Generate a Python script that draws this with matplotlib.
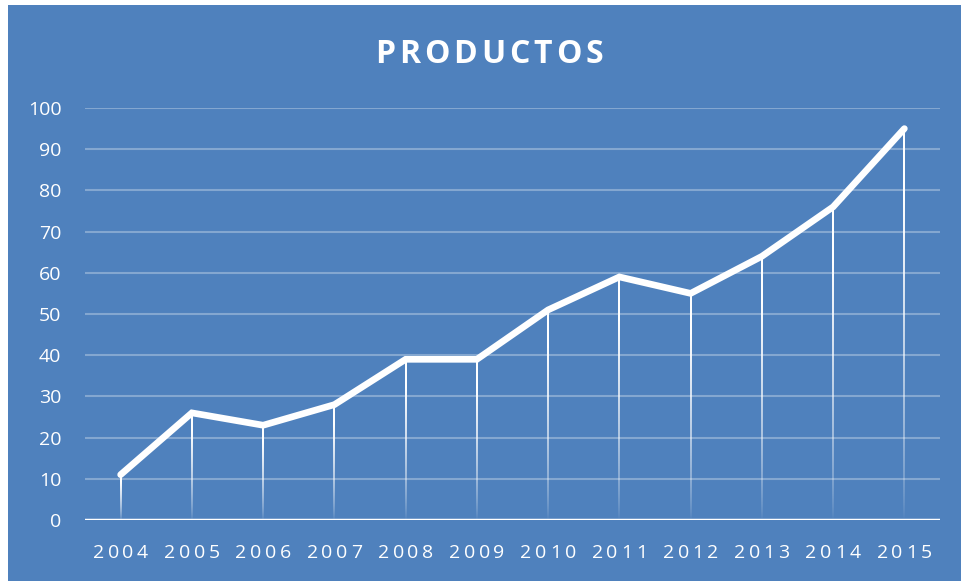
import matplotlib
matplotlib.use("Agg")
import matplotlib.pyplot as plt
import numpy as np
from matplotlib.patches import Rectangle

years = ["2004", "2005", "2006", "2007", "2008", "2009", "2010", "2011", "2012", "2013", "2014", "2015"]
values = [11, 26, 23, 28, 39, 39, 51, 59, 55, 64, 76, 95]
yticks = [0, 10, 20, 30, 40, 50, 60, 70, 80, 90, 100]
title = "PRODUCTOS"

BG = "#4f81bd"
FONT = "Open Sans"
W, H = 961, 581

fig = plt.figure(figsize=(W / 100, H / 100), dpi=100)
fig.patch.set_facecolor("white")
fig.add_artist(Rectangle((8 / W, 0), 1 - 8 / W, 1 - 5 / H, transform=fig.transFigure,
                         facecolor=BG, edgecolor="none", zorder=-10))

L, R, B, T = 85, 940, 520, 108
ax = fig.add_axes([L / W, 1 - B / H, (R - L) / W, (B - T) / H])
ax.set_facecolor("none")
x = np.arange(len(years))

# gridlines
for yv in yticks[1:]:
    ax.axhline(yv, color="white", alpha=0.3, lw=1.5, zorder=1)
ax.axhline(0, color="white", lw=2.5, zorder=3)

# drop lines with vertical gradient
px_per_unit = (R - L) / len(years)
hw = 1.0 / px_per_unit
n = 200
t = np.linspace(0, 1, n)[:, None]  # 0 bottom -> 1 top
alpha = np.clip(t ** 0.7 * 1.15, 0, 1)
grad = np.zeros((n, 1, 4))
grad[..., :3] = 1.0
grad[..., 3] = alpha
for xi, v in zip(x, values):
    ax.imshow(grad, extent=[xi - hw, xi + hw, 0, v], origin="lower",
              aspect="auto", interpolation="bilinear", zorder=2)

ax.plot(x, values, color="white", lw=4.8, solid_joinstyle="miter",
        solid_capstyle="round", zorder=4)

ax.set_xlim(-0.5, len(years) - 0.5)
ax.set_ylim(0, 100)
for s in ax.spines.values():
    s.set_visible(False)
ax.set_xticks(x)
ax.set_xticklabels([""] * len(years))
ax.set_yticks(yticks)
ax.tick_params(length=0, colors="white", labelsize=14)
ax.tick_params(axis="y", pad=17)
for lab in ax.get_yticklabels():
    lab.set_fontfamily(FONT)
    lab.set_color("white")

# x labels with letter spacing
pitch = 14.7  # px between digit centers
for xi, lab in zip(x, years):
    nch = len(lab)
    for k, ch in enumerate(lab):
        dx = (k - (nch - 1) / 2) * pitch * 0.72
        ax.annotate(ch, xy=(xi, 0), xycoords=("data", "axes fraction"),
                    xytext=(dx, -27.4), textcoords="offset points",
                    ha="center", va="baseline", color="white",
                    fontsize=14, fontfamily=FONT, annotation_clip=False)

# title with letter spacing
fig.canvas.draw()
renderer = fig.canvas.get_renderer()
spacing = 4.0
objs = []
widths = []
for ch in title:
    tt = fig.text(0, 0, ch, color="white", fontsize=23, fontweight="bold",
                  fontfamily=FONT, ha="left", va="baseline")
    objs.append(tt)
    widths.append(tt.get_window_extent(renderer).width)
total = sum(widths) + spacing * (len(title) - 1)
cx = 489
xpos = cx - total / 2
baseline = 63
for tt, w in zip(objs, widths):
    tt.set_position((xpos / W, 1 - baseline / H))
    xpos += w + spacing

fig.savefig("out.png", dpi=100)
